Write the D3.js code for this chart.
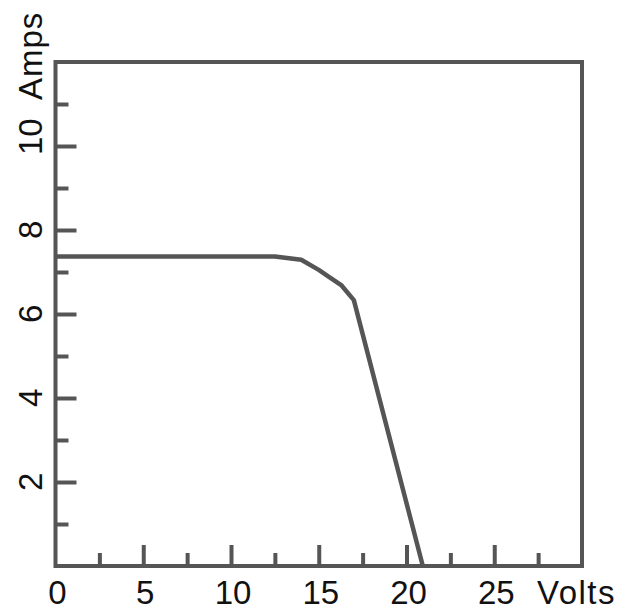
<!DOCTYPE html>
<html>
<head>
<meta charset="utf-8">
<script src="https://cdn.jsdelivr.net/npm/d3@7"></script>
<style>
  html, body { margin: 0; padding: 0; background: #fff; }
  svg { display: block; font-family: "Liberation Sans", Arial, sans-serif; }
</style>
</head>
<body>
<div id="chart"></div>
<script>
// I-V curve values
const volts = [0, 12.5, 14, 15, 15.6, 16.3, 17.0, 20.93];
const amps = [7.37, 7.37, 7.29, 7.05, 6.88, 6.68, 6.33, 0];

const xMajor = [0, 5, 10, 15, 20, 25];
const xMinor = [2.5, 7.5, 12.5, 17.5, 22.5, 27.5];
const yMajor = [2, 4, 6, 8, 10];
const yMinor = [1, 3, 5, 7, 9, 11];

const width = 619, height = 612;
const plotL = 55.5, plotR = 582, plotT = 62, plotB = 566;
const ink = "#555";
const fs = 33;

const svg = d3.select("#chart").append("svg")
  .attr("width", width)
  .attr("height", height);

const x = d3.scaleLinear().domain([0, 30]).range([plotL, plotR]);
const y = d3.scaleLinear().domain([0, 12]).range([plotB, plotT]);

// ticks pointing inward, no domain line (frame drawn below)
function tickAxis(axis, g) {
  g.call(axis);
  g.select(".domain").remove();
  g.selectAll(".tick line").attr("stroke", ink).attr("stroke-width", 4);
}

const gx = svg.append("g").attr("transform", `translate(0,${plotB})`);
tickAxis(d3.axisBottom(x).tickValues(xMajor.filter(d => d > 0)).tickSize(-21).tickFormat(""), gx);
const gxm = svg.append("g").attr("transform", `translate(0,${plotB})`);
tickAxis(d3.axisBottom(x).tickValues(xMinor).tickSize(-13).tickFormat(""), gxm);

const gy = svg.append("g").attr("transform", `translate(${plotL},0)`);
tickAxis(d3.axisLeft(y).tickValues(yMajor).tickSize(-21).tickFormat(""), gy);
const gym = svg.append("g").attr("transform", `translate(${plotL},0)`);
tickAxis(d3.axisLeft(y).tickValues(yMinor).tickSize(-13).tickFormat(""), gym);

// frame
svg.append("rect")
  .attr("x", plotL).attr("y", plotT)
  .attr("width", plotR - plotL).attr("height", plotB - plotT)
  .attr("fill", "none")
  .attr("stroke", ink)
  .attr("stroke-width", 4);

// x labels
svg.append("g").selectAll("text")
  .data(xMajor)
  .join("text")
  .attr("x", d => x(d) + 2)
  .attr("y", 604)
  .attr("text-anchor", "middle")
  .attr("font-size", fs)
  .attr("fill", "#111")
  .text(d => d);

svg.append("text")
  .attr("x", 537).attr("y", 604)
  .attr("font-size", fs)
  .attr("letter-spacing", 1.5)
  .attr("fill", "#111")
  .text("Volts");

// y labels, rotated
svg.append("g").selectAll("text")
  .data(yMajor)
  .join("text")
  .attr("transform", d => `translate(42,${y(d) + 9}) rotate(-90)`)
  .attr("font-size", fs)
  .attr("fill", "#111")
  .text(d => d);

svg.append("text")
  .attr("transform", "translate(42,100) rotate(-90)")
  .attr("font-size", fs)
  .attr("letter-spacing", 1)
  .attr("fill", "#111")
  .text("Amps");

// curve
const line = d3.line()
  .x((d, i) => x(volts[i]))
  .y(d => y(d));

svg.append("path")
  .datum(amps)
  .attr("fill", "none")
  .attr("stroke", ink)
  .attr("stroke-width", 4.5)
  .attr("stroke-linejoin", "round")
  .attr("d", line);
</script>
</body>
</html>
